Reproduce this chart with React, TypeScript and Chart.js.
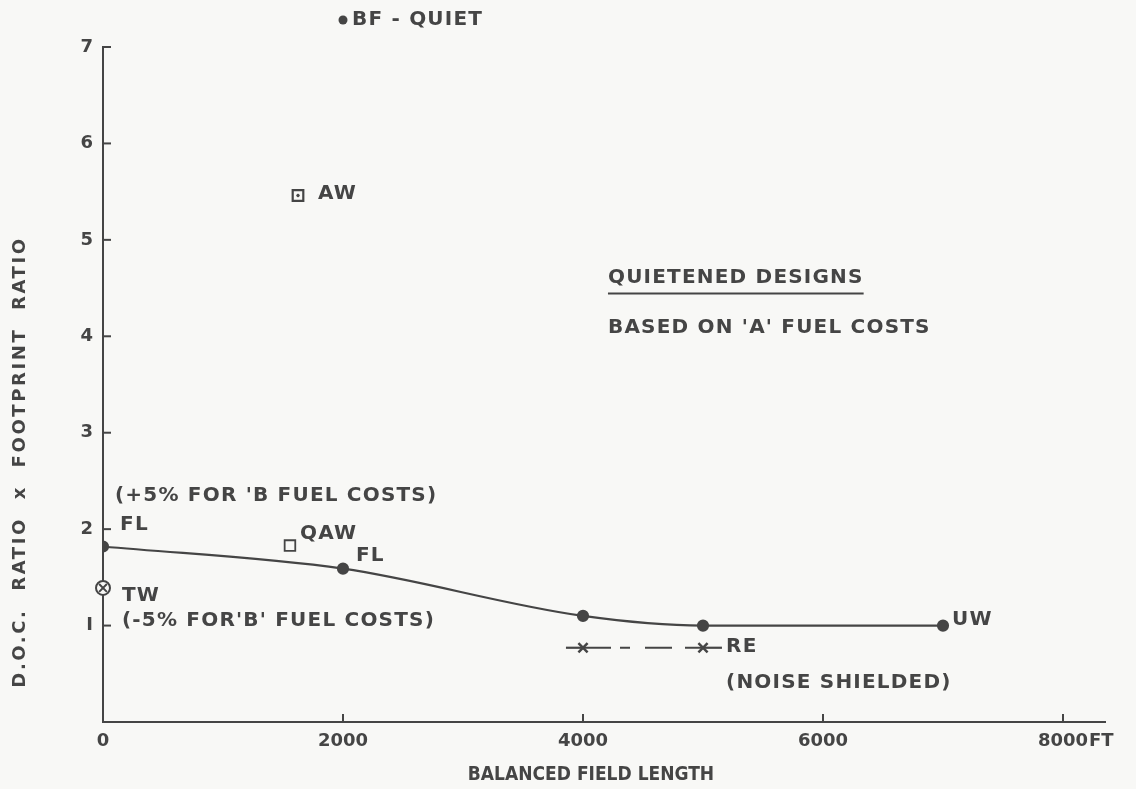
import React, { useEffect, useRef } from "react";
import { Chart, registerables } from "chart.js";

Chart.register(...registerables);

// ---- data ----
const mainX = [0, 2000, 4000, 5000, 7000];
const mainY = [1.82, 1.59, 1.1, 1.0, 1.0];

const bfQuiet = { x: 2000, y: 7.28 };
const awPoint = { x: 1625, y: 5.46 };
const qawPoint = { x: 1558, y: 1.83 };
const twPoint = { x: 0, y: 1.39 };

const reX = [3858, 4000, 5000, 5158];
const reY = [0.77, 0.77, 0.77, 0.77];
const reMarkerRadius = [0, 6.5, 6.5, 0];

const xTicks = [0, 2000, 4000, 6000, 8000];
const yTicks = [0, 1, 2, 3, 4, 5, 6, 7];

const xTitle = "BALANCED FIELD LENGTH";
const yTitle = "D.O.C.  RATIO  x  FOOTPRINT  RATIO";

const annotations = [
  { x: 2075, y: 7.28, text: "BF - QUIET" },
  { x: 1792, y: 5.48, text: "AW" },
  { x: 4208, y: 4.61, text: "QUIETENED DESIGNS", underline: true },
  { x: 4208, y: 4.09, text: "BASED ON 'A' FUEL COSTS" },
  { x: 100, y: 2.35, text: "(+5% FOR 'B FUEL COSTS)" },
  { x: 142, y: 2.05, text: "FL" },
  { x: 1642, y: 1.95, text: "QAW" },
  { x: 2108, y: 1.72, text: "FL" },
  { x: 158, y: 1.31, text: "TW" },
  { x: 158, y: 1.05, text: "(-5% FOR'B' FUEL COSTS)" },
  { x: 5192, y: 0.78, text: "RE" },
  { x: 5192, y: 0.41, text: "(NOISE SHIELDED)" },
  { x: 7075, y: 1.06, text: "UW" },
];

const INK = "#454545";
const BG = "#f8f8f6";
const FONT = "'DejaVu Sans', sans-serif";

const inkPlugin = {
  id: "inkPlugin",
  afterDraw(chart: any) {
    const ctx = chart.ctx;
    const xs = chart.scales.x;
    const ys = chart.scales.y;
    const area = chart.chartArea;
    ctx.save();
    // inward ticks
    ctx.strokeStyle = INK;
    ctx.lineWidth = 2;
    xTicks.forEach((v) => {
      if (v === 0) return;
      const px = xs.getPixelForValue(v);
      ctx.beginPath();
      ctx.moveTo(px, area.bottom);
      ctx.lineTo(px, area.bottom - 8);
      ctx.stroke();
    });
    yTicks.forEach((v) => {
      if (v === 0) return;
      const py = ys.getPixelForValue(v);
      ctx.beginPath();
      ctx.moveTo(area.left, py);
      ctx.lineTo(area.left + 8, py);
      ctx.stroke();
    });
    // BF-QUIET point (above the plot area, drawn through the scales)
    ctx.fillStyle = INK;
    ctx.beginPath();
    ctx.arc(xs.getPixelForValue(bfQuiet.x), ys.getPixelForValue(bfQuiet.y), 4.5, 0, Math.PI * 2);
    ctx.fill();
    // text annotations
    ctx.font = `bold 20px ${FONT}`;
    (ctx as any).letterSpacing = "1.2px";
    ctx.textBaseline = "middle";
    ctx.textAlign = "left";
    annotations.forEach((a: any) => {
      const px = xs.getPixelForValue(a.x);
      const py = ys.getPixelForValue(a.y);
      ctx.fillText(a.text, px, py);
      if (a.underline) {
        const w = ctx.measureText(a.text).width;
        ctx.lineWidth = 2;
        ctx.beginPath();
        ctx.moveTo(px, py + 16);
        ctx.lineTo(px + w, py + 16);
        ctx.stroke();
      }
    });
    // "FT" after 8000
    ctx.font = `bold 18px ${FONT}`;
    (ctx as any).letterSpacing = "0px";
    const p8 = xs.getPixelForValue(8000);
    const w8 = ctx.measureText("8000").width;
    ctx.textAlign = "left";
    ctx.textBaseline = "top";
    ctx.fillText("FT", p8 + w8 / 2 + 1, area.bottom + 10);
    // x title
    ctx.font = `bold 19px 'DejaVu Sans Condensed', ${FONT}`;
    ctx.textAlign = "center";
    ctx.textBaseline = "middle";
    ctx.fillText(xTitle, (area.left + area.right) / 2 - 13, 775);
    // y title
    ctx.save();
    ctx.translate(20, 462);
    ctx.rotate(-Math.PI / 2);
    ctx.font = `bold 18px ${FONT}`;
    (ctx as any).letterSpacing = "2.6px";
    ctx.textAlign = "center";
    ctx.fillText(yTitle, 0, 0);
    ctx.restore();
    ctx.restore();
  },
};

export default function App() {
  const ref = useRef<HTMLCanvasElement | null>(null);
  useEffect(() => {
    if (!ref.current) return;
    const chart = new Chart(ref.current, {
      type: "scatter",
      data: {
        datasets: [
          {
            label: "Main",
            data: mainX.map((x, i) => ({ x, y: mainY[i] })),
            showLine: true,
            borderColor: INK,
            backgroundColor: INK,
            borderWidth: 2.2,
            pointRadius: 5,
            cubicInterpolationMode: "monotone",
          },
          {
            label: "AW dot",
            data: [awPoint],
            pointRadius: 1.3,
            borderColor: INK,
            backgroundColor: INK,
          },
          {
            label: "AW",
            data: [awPoint],
            pointStyle: "rect",
            pointRadius: 7.5,
            borderColor: INK,
            backgroundColor: BG,
            borderWidth: 2.2,
          },
          {
            label: "QAW",
            data: [qawPoint],
            pointStyle: "rect",
            pointRadius: 7.5,
            borderColor: INK,
            backgroundColor: BG,
            borderWidth: 1.8,
          },
          {
            label: "TW x",
            data: [twPoint],
            pointStyle: "crossRot",
            pointRadius: 5.5,
            borderColor: INK,
            borderWidth: 2,
            clip: false,
          },
          {
            label: "TW",
            data: [twPoint],
            pointStyle: "circle",
            pointRadius: 7,
            borderColor: INK,
            backgroundColor: BG,
            borderWidth: 2,
            clip: false,
          },
          {
            label: "RE",
            data: reX.map((x, i) => ({ x, y: reY[i] })),
            showLine: true,
            pointStyle: "crossRot",
            pointRadius: reMarkerRadius,
            borderColor: INK,
            backgroundColor: INK,
            borderWidth: 2.2,
            pointBorderWidth: 2.5,
            segment: {
              borderDash: (c: any) => (c.p0DataIndex === 1 ? [28, 9, 10, 15, 27, 13, 40] : undefined),
            },
          } as any,
        ],
      },
      options: {
        responsive: false,
        maintainAspectRatio: false,
        animation: false,
        devicePixelRatio: 1,
        layout: { padding: { top: 47, right: 31, left: 0, bottom: 0 } },
        plugins: {
          legend: { display: false },
          tooltip: { enabled: false },
        },
        scales: {
          x: {
            type: "linear",
            min: 0,
            max: 8350,
            afterFit: (s: any) => {
              s.height = 67;
            },
            afterBuildTicks: (s: any) => {
              s.ticks = xTicks.map((v) => ({ value: v }));
            },
            ticks: {
              color: INK,
              font: { family: FONT, size: 18, weight: "bold" },
              padding: 9,
              maxRotation: 0,
              callback: (v: any) => String(v),
            },
            grid: { display: true, drawOnChartArea: false, drawTicks: false, color: "rgba(0,0,0,0)" },
            border: { display: true, color: INK, width: 2 },
          },
          y: {
            type: "linear",
            min: 0,
            max: 7,
            afterFit: (s: any) => {
              s.width = 103;
            },
            afterBuildTicks: (s: any) => {
              s.ticks = yTicks.filter((v) => v > 0).map((v) => ({ value: v }));
            },
            ticks: {
              color: INK,
              font: { family: FONT, size: 18, weight: "bold" },
              padding: 10,
              callback: (v: any) => (v === 1 ? "I" : String(v)),
            },
            grid: { display: true, drawOnChartArea: false, drawTicks: false, color: "rgba(0,0,0,0)" },
            border: { display: true, color: INK, width: 2 },
          },
        },
      },
      plugins: [inkPlugin],
    } as any);
    return () => chart.destroy();
  }, []);
  return (
    <div style={{ position: "fixed", left: 0, top: 0, width: 1136, height: 789, background: BG }}>
      <canvas ref={ref} width={1136} height={789} style={{ display: "block" }} />
    </div>
  );
}
